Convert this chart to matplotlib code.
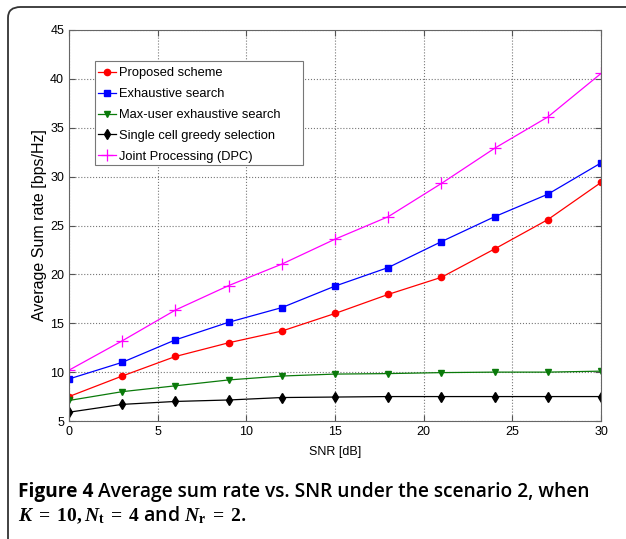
import matplotlib.pyplot as plt
from matplotlib.patches import FancyBboxPatch, Rectangle

plt.rcParams["mathtext.fontset"] = "custom"
plt.rcParams["mathtext.it"] = "Liberation Serif:italic:bold"
plt.rcParams["mathtext.rm"] = "Liberation Serif:bold"
plt.rcParams["mathtext.bf"] = "Liberation Serif:bold"

snr = [0, 3, 6, 9, 12, 15, 18, 21, 24, 27, 30]
proposed = [7.5, 9.6, 11.6, 13.0, 14.2, 16.0, 17.95, 19.7, 22.6, 25.6, 29.4]
exhaustive = [9.3, 11.0, 13.3, 15.1, 16.6, 18.8, 20.7, 23.35, 25.9, 28.2, 31.4]
max_user = [7.1, 8.0, 8.6, 9.2, 9.6, 9.8, 9.85, 9.95, 10.0, 10.0, 10.1]
greedy = [5.9, 6.7, 7.0, 7.15, 7.4, 7.45, 7.5, 7.5, 7.5, 7.5, 7.5]
dpc = [10.2, 13.2, 16.35, 18.85, 21.05, 23.6, 25.9, 29.3, 32.9, 36.1, 40.55]

labels = ["Proposed scheme", "Exhaustive search", "Max-user exhaustive search",
          "Single cell greedy selection", "Joint Processing (DPC)"]

fig = plt.figure(figsize=(6.26, 5.39), dpi=100)

# rounded frame around figure + caption
frame = FancyBboxPatch((8 / 626, -0.1), 1.1, 1 - 7 / 539 + 0.1,
                       boxstyle="round,pad=0,rounding_size=0.02",
                       transform=fig.transFigure, facecolor="none",
                       edgecolor="#333333", linewidth=1.3, zorder=-5)
fig.patches.append(frame)

ax = fig.add_axes([69 / 626, 1 - 421 / 539, 532 / 626, 391 / 539])
font = "Liberation Sans"

ax.plot(snr, proposed, "-o", color="#ff0000", ms=4.5, lw=0.9, label=labels[0])
ax.plot(snr, exhaustive, "-s", color="#0000ff", ms=4.3, lw=0.9, label=labels[1])
ax.plot(snr, max_user, "-v", color="#0a7a0a", ms=4.8, lw=0.9, label=labels[2])
ax.plot(snr, greedy, "-d", color="#000000", ms=5, lw=0.9, label=labels[3])
ax.plot(snr, dpc, "-+", color="#ff00ff", ms=8, lw=0.9, mew=0.9, label=labels[4])

ax.set_xlim(0, 30)
ax.set_ylim(5, 45)
ax.set_xticks(range(0, 31, 5))
ax.set_yticks(range(5, 46, 5))
ax.grid(True, linestyle=":", color="#777777", linewidth=0.8)
ax.tick_params(direction="in", length=4, color="#555555", labelsize=9,
               top=True, right=True)
for lab in ax.get_xticklabels() + ax.get_yticklabels():
    lab.set_family(font)
for s in ax.spines.values():
    s.set_color("#666666")
    s.set_linewidth(0.8)

ax.set_xlabel("SNR [dB]", family=font, fontsize=9, labelpad=6)
ax.set_ylabel("Average Sum rate [bps/Hz]", family=font, fontsize=11.5, labelpad=2)

# MATLAB-style legend box (wider on the right than matplotlib pads it)
box = Rectangle((95 / 626, 1 - 165 / 539), 208 / 626, 104 / 539,
                transform=fig.transFigure, facecolor="white",
                edgecolor="#777777", linewidth=0.8, zorder=4.5)
ax.add_artist(box)
box.set_clip_on(False)

leg = ax.legend(loc="upper left", bbox_to_anchor=(0.049, 0.911),
                borderaxespad=0, prop={"family": font, "size": 9.3},
                handlelength=1.45, handletextpad=0.2, labelspacing=0.68,
                borderpad=0.2, frameon=False)

t1 = fig.text(18 / 626, 1 - 497 / 539, "Figure 4", family="Open Sans",
              weight="bold", fontsize=13.8)
ax.annotate(" Average sum rate vs. SNR under the scenario 2, when",
            xy=(1, 0), xycoords=t1, va="bottom", family="Open Sans",
            weight="semibold", fontsize=13.8, annotation_clip=False)
fig.text(18 / 626, 1 - 521 / 539,
         r"$K\;=\;10, N_{\mathrm{t}}\;=\;4$ and $N_{\mathrm{r}}\;=\;2$.",
         family="Open Sans", weight="semibold", fontsize=14)

fig.savefig("out.png", dpi=100)
